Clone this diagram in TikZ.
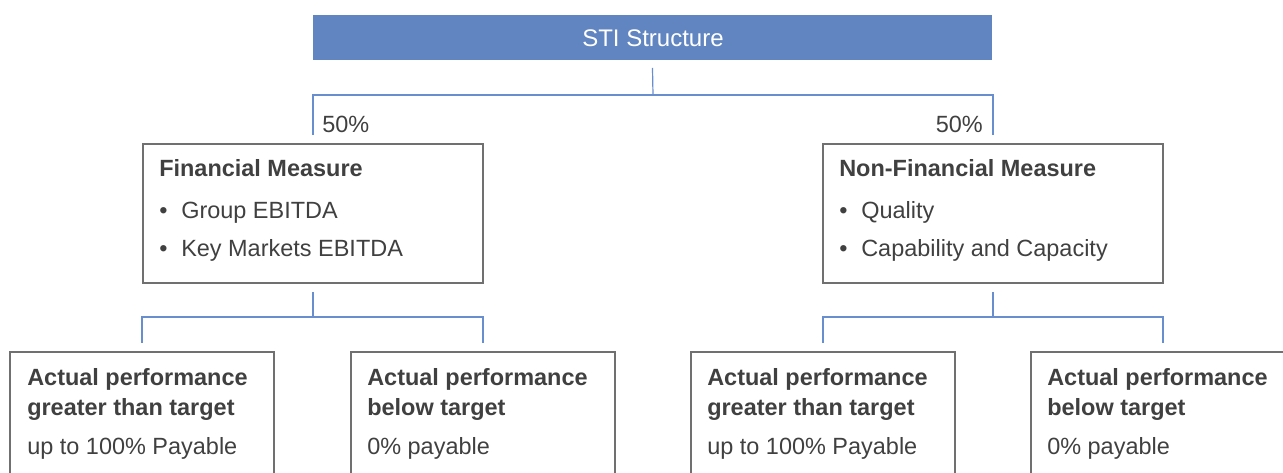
\documentclass[tikz,border=0pt]{standalone}
\usepackage{fontspec}
\setmainfont{Liberation Sans}
\definecolor{stiblue}{RGB}{97,133,192}
\definecolor{connblue}{RGB}{104,142,206}
\definecolor{boxgray}{RGB}{112,112,112}
\definecolor{txtgray}{RGB}{64,64,64}
\begin{document}
\begin{tikzpicture}[x=0.75pt,y=-0.75pt,
  box/.style={draw=boxgray, line width=0.9pt, anchor=north west, inner sep=0pt, outer sep=0pt},
  midbox/.style={box, minimum width=255pt, minimum height=104.25pt},
  lowbox/.style={box, minimum width=198pt, minimum height=120pt},
  lbl/.style={anchor=base west, inner sep=0pt, text=txtgray, font=\fontsize{17.6}{20}\selectfont},
  hdr/.style={lbl, font=\fontsize{17.6}{20}\selectfont\bfseries},
  conn/.style={draw=connblue, line width=0.9pt}]
\useasboundingbox (0,0) rectangle (1283,473);
\clip (0,0) rectangle (1283,473);
% top box
\node[fill=stiblue, anchor=north west, inner sep=0pt, outer sep=0pt, minimum width=509.25pt, minimum height=33.75pt] (sti) at (313,15) {};
\node[anchor=base, inner sep=0pt, text=white, font=\fontsize{18}{20}\selectfont] (stitxt) at (653,47) {STI Structure};
% middle boxes
\node[midbox] (fin) at (143,144) {};
\node[midbox] (nonfin) at (823,144) {};
\node[hdr] (fint) at (159,177) {Financial Measure};
\node[lbl] (finb1) at (159,219) {\textbullet};
\node[lbl] (fin1) at (181,219) {Group EBITDA};
\node[lbl] (finb2) at (159,257) {\textbullet};
\node[lbl] (fin2) at (181,257) {Key Markets EBITDA};
\node[hdr] (nont) at (839,177) {Non-Financial Measure};
\node[lbl] (nonb1) at (839,219) {\textbullet};
\node[lbl] (non1) at (861,219) {Quality};
\node[lbl] (nonb2) at (839,257) {\textbullet};
\node[lbl] (non2) at (861,257) {Capability and Capacity};
% percentages
\node[lbl] (pl) at (322,133) {50\%};
\node[lbl, anchor=base east] (pr) at (983,133) {50\%};
% bottom boxes
\node[lowbox] (b1) at (10,352) {};
\node[lowbox] (b2) at (351,352) {};
\node[lowbox] (b3) at (691,352) {};
\node[lowbox] (b4) at (1031,352) {};
\foreach \n/\x/\a/\b in {b1t/27/greater than target/up to 100\% Payable,
                         b2t/367/below target/0\% payable,
                         b3t/707/greater than target/up to 100\% Payable,
                         b4t/1047/below target/0\% payable}{
  \node[hdr] (\n a) at (\x,386) {Actual performance};
  \node[hdr] (\n b) at (\x,416) {\a};
  \node[lbl] (\n c) at (\x,455) {\b};
}
% connectors
\coordinate (j1) at (653,95);
\coordinate (j2) at (313,317);
\coordinate (j3) at (993,317);
\draw[conn] ([yshift=-6pt]sti.south) -- (j1);
\draw[conn] ([yshift=6.75pt]fin.north) |- (j1) -| ([yshift=6.75pt]nonfin.north);
\draw[conn] ([yshift=-6.75pt]fin.south) -- (j2);
\draw[conn] ([yshift=6.75pt]b1.north) |- (j2) -| ([yshift=6.75pt]b2.north);
\draw[conn] ([yshift=-6.75pt]nonfin.south) -- (j3);
\draw[conn] ([yshift=6.75pt]b3.north) |- (j3) -| ([yshift=6.75pt]b4.north);
\end{tikzpicture}
\end{document}
